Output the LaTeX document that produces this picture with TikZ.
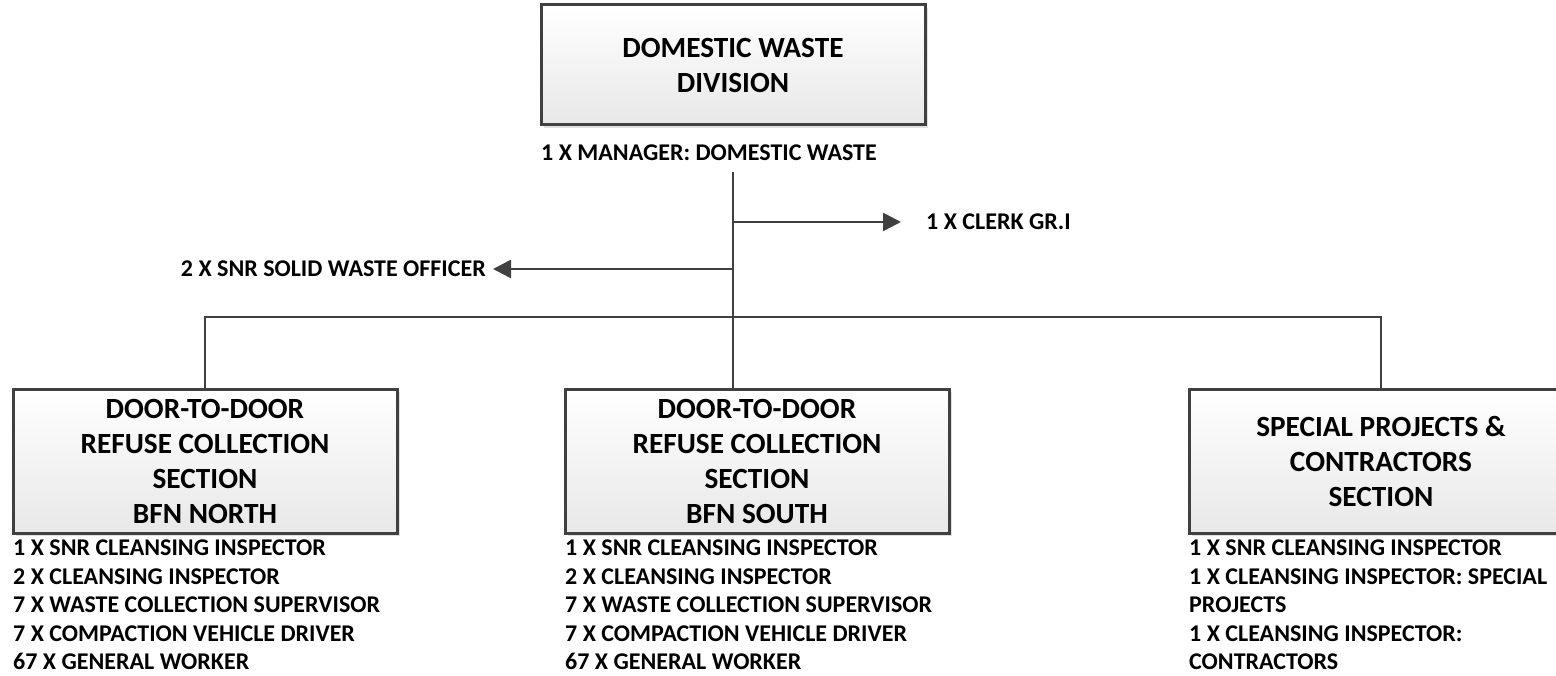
\documentclass[tikz,border=0pt]{standalone}
\usepackage{fontspec}
\setmainfont{Carlito}
\usetikzlibrary{shadows,arrows.meta}
\definecolor{linegray}{HTML}{404040}
\tikzset{
  unitbox/.style={draw=linegray, line width=3pt, minimum width=384pt, minimum height=144pt,
    inner sep=0pt, top color=white, bottom color=black!9, align=center,
    font=\bfseries\fontsize{29.3}{35}\selectfont,
    drop shadow={shadow xshift=3pt, shadow yshift=-3pt, fill=black!12, opacity=1}},
  lbl/.style={inner sep=0pt, align=left, font=\bfseries\fontsize{24}{28.5}\selectfont},
  conn/.style={draw=linegray, line width=2.6pt},
  arr/.style={conn, -{Triangle[length=18pt,width=18pt]}}
}
\begin{document}
\begin{tikzpicture}[x=1pt,y=-1pt]
\useasboundingbox (0,0) rectangle (1556,676);
\clip (0,0) rectangle (1556,676);
% top box
\node[unitbox, minimum height=120pt] (top) at (733,65) {DOMESTIC WASTE\\DIVISION};
\node[lbl, anchor=base west] (mgr) at (541,160.5) {1 X MANAGER: DOMESTIC WASTE};
% sections
\node[unitbox] (north) at (205,461) {DOOR-TO-DOOR\\REFUSE COLLECTION\\SECTION\\BFN NORTH};
\node[unitbox] (south) at (757,461) {DOOR-TO-DOOR\\REFUSE COLLECTION\\SECTION\\BFN SOUTH};
\node[unitbox] (spec) at (1381,461) {SPECIAL PROJECTS \&\\CONTRACTORS\\SECTION};
% staff
\node[lbl, anchor=base west] (clerk) at (926,229.5) {1 X CLERK GR.I};
\node[lbl, anchor=base east] (snr) at (486,276.5) {2 X SNR SOLID WASTE OFFICER};
\node[lbl, anchor=north west] (nlist) at (13,540) {1 X SNR CLEANSING INSPECTOR\\2 X CLEANSING INSPECTOR\\7 X WASTE COLLECTION SUPERVISOR\\7 X COMPACTION VEHICLE DRIVER\\67 X GENERAL WORKER};
\node[lbl, anchor=north west] (slist) at (565,540) {1 X SNR CLEANSING INSPECTOR\\2 X CLEANSING INSPECTOR\\7 X WASTE COLLECTION SUPERVISOR\\7 X COMPACTION VEHICLE DRIVER\\67 X GENERAL WORKER};
\node[lbl, anchor=north west] (plist) at (1189,540) {1 X SNR CLEANSING INSPECTOR\\1 X CLEANSING INSPECTOR: SPECIAL\\PROJECTS\\1 X CLEANSING INSPECTOR:\\CONTRACTORS};
% connectors
\coordinate (vtop) at (733,172);
\coordinate (jclerk) at (733,222);
\coordinate (jsnr) at (733,269);
\coordinate (bus) at (733,317);
\draw[conn] (vtop) -- (vtop |- south.north);
\draw[arr, shorten >=25pt] (jclerk) -- (clerk.west |- jclerk);
\draw[arr, shorten >=7pt] (jsnr) -- (snr.east |- jsnr);
\draw[conn] (north.north) |- (bus) -| (spec.north);
\end{tikzpicture}
\end{document}
